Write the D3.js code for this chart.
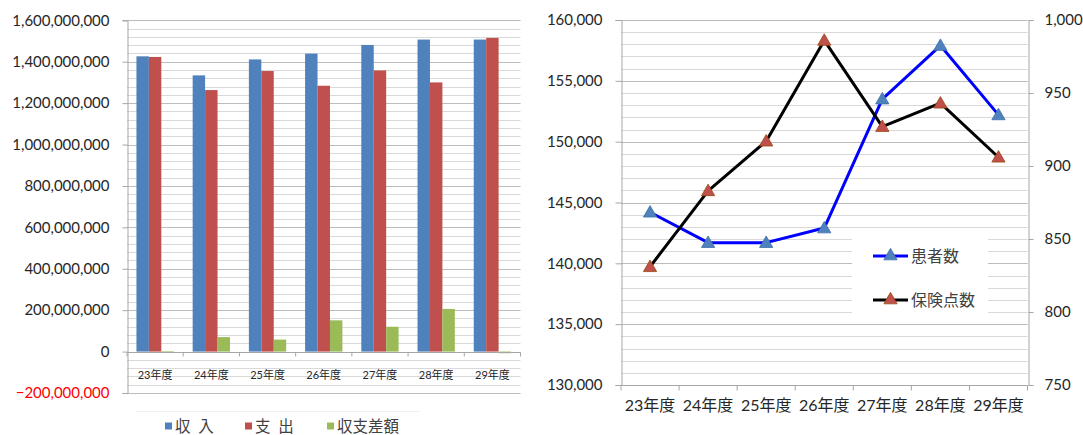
<!DOCTYPE html>
<html>
<head>
<meta charset="utf-8">
<script src="https://cdn.jsdelivr.net/npm/d3@7"></script>
<style>
  html, body { margin: 0; padding: 0; background: #fff; }
  svg { display: block; }
  text { font-family: Lato, "Noto Sans CJK JP", sans-serif; fill: #262626; }
</style>
</head>
<body>
<svg id="chart" width="1083" height="435"></svg>
<script>
// ---- data ----
const years = ["23年度", "24年度", "25年度", "26年度", "27年度", "28年度", "29年度"];

// 収支 (円)
const revenue = [1426000000, 1334000000, 1411000000, 1439000000, 1481000000, 1507000000, 1507000000];
const expense = [1423000000, 1263000000, 1355000000, 1284000000, 1358000000, 1300000000, 1515000000];
const balance = [3000000, 70000000, 58000000, 151000000, 120000000, 206000000, -8000000];
const moneySeries = ["収\u2002入", "支\u2002出", "収支差額"];
const moneyTicks = [-200000000, 0, 200000000, 400000000, 600000000, 800000000, 1000000000, 1200000000, 1400000000, 1600000000];

// 患者数・保険点数
const patients = [144200, 141700, 141700, 142900, 153500, 157900, 152200];
const points = [831, 883, 917, 986, 927, 943, 906];
const patientTicks = [130000, 135000, 140000, 145000, 150000, 155000, 160000];
const pointTicks = [750, 800, 850, 900, 950, 1000];
const lineSeries = ["患者数", "保険点数"];

const svg = d3.select("#chart");
svg.append("rect").attr("width", 1083).attr("height", 435).attr("fill", "#fff");

const fmt = d3.format(",");
const minorColor = "#d9d9d9", majorColor = "#bcbcbc", axisColor = "#a6a6a6";

// ================= left: bar chart =================
{
  const left = 127, right = 520.5, top = 20.3, bottom = 393;
  const x = d3.scaleBand().domain(years).range([left, right]).paddingInner(0).paddingOuter(0);
  const xs = d3.scaleBand().domain(moneySeries).range([0, x.bandwidth()]).paddingInner(0).paddingOuter(0.76);
  const y = d3.scaleLinear().domain([-200000000, 1600000000]).range([bottom, top]);
  const colors = ["#4f81bd", "#c0504d", "#9bbb59"];

  const g = svg.append("g");
  // minor grid every 40,000,000
  const minor = d3.range(-200000000, 1600000001, 40000000);
  g.selectAll("line.minor").data(minor).join("line")
    .attr("x1", left).attr("x2", right)
    .attr("y1", d => Math.round(y(d)) + 0.5).attr("y2", d => Math.round(y(d)) + 0.5)
    .attr("stroke", minorColor).attr("stroke-width", 1);
  g.selectAll("line.major").data(moneyTicks).join("line")
    .attr("x1", left).attr("x2", right)
    .attr("y1", d => Math.round(y(d)) + 0.5).attr("y2", d => Math.round(y(d)) + 0.5)
    .attr("stroke", majorColor).attr("stroke-width", 1);

  // bars
  const rows = years.map((yr, i) => ({ yr, vals: [revenue[i], expense[i], balance[i]] }));
  const grp = g.selectAll("g.cat").data(rows).join("g").attr("transform", d => `translate(${x(d.yr)},0)`);
  grp.selectAll("rect").data(d => d.vals.map((v, k) => ({ v, k }))).join("rect")
    .attr("x", d => xs(moneySeries[d.k]))
    .attr("width", xs.bandwidth())
    .attr("y", d => y(Math.max(0, d.v)))
    .attr("height", d => Math.abs(y(d.v) - y(0)))
    .attr("fill", d => colors[d.k]);

  // category axis at zero
  const xAxis = g.append("g").attr("transform", `translate(0,${Math.round(y(0)) + 0.5})`);
  xAxis.append("line").attr("x1", left).attr("x2", right).attr("stroke", axisColor);
  xAxis.selectAll("line.t").data(d3.range(years.length + 1)).join("line")
    .attr("x1", i => left + i * x.step()).attr("x2", i => left + i * x.step())
    .attr("y1", 0).attr("y2", 4).attr("stroke", axisColor);
  g.selectAll("text.cat").data(years).join("text")
    .attr("x", d => x(d) + x.bandwidth() / 2).attr("y", 379)
    .attr("text-anchor", "middle").attr("font-size", 11).text(d => d);

  // value axis
  const yAxis = d3.axisLeft(y).tickValues(moneyTicks).tickFormat(fmt).tickSize(5).tickPadding(13);
  const ya = g.append("g").attr("transform", `translate(${left + 0.5},0)`).call(yAxis);
  ya.select(".domain").attr("stroke", axisColor);
  ya.selectAll(".tick line").attr("stroke", axisColor);
  ya.selectAll(".tick text").attr("font-size", 15).attr("font-family", "Lato, sans-serif")
    .attr("fill", d => d < 0 ? "#ff0000" : "#262626").style("fill", d => d < 0 ? "#ff0000" : "#262626");

  // legend
  const lg = svg.append("g");
  lg.append("line").attr("x1", 135).attr("x2", 420).attr("y1", 411.5).attr("y2", 411.5).attr("stroke", "#f0f0f0");
  const lx = [165, 245, 327];
  moneySeries.forEach((s, k) => {
    lg.append("rect").attr("x", lx[k]).attr("y", 422.5).attr("width", 7).attr("height", 7).attr("fill", colors[k]);
    lg.append("text").attr("x", lx[k] + 10).attr("y", 432).attr("font-size", 15.5)
      .attr("fill", "#404040").style("fill", "#404040").text(s);
  });
}

// ================= right: line chart =================
{
  const left = 621, right = 1027.5, top = 20, bottom = 385;
  const x = d3.scaleBand().domain(years).range([left, right]);
  const yL = d3.scaleLinear().domain([130000, 160000]).range([bottom, top]);
  const yR = d3.scaleLinear().domain([750, 1000]).range([bottom, top]);

  const g = svg.append("g");
  const minor = d3.range(130000, 160001, 1000);
  g.selectAll("line.minor").data(minor).join("line")
    .attr("x1", left).attr("x2", right)
    .attr("y1", d => Math.round(yL(d)) + 0.5).attr("y2", d => Math.round(yL(d)) + 0.5)
    .attr("stroke", minorColor);
  g.selectAll("line.major").data(patientTicks).join("line")
    .attr("x1", left).attr("x2", right)
    .attr("y1", d => Math.round(yL(d)) + 0.5).attr("y2", d => Math.round(yL(d)) + 0.5)
    .attr("stroke", majorColor);

  // axes
  const la = g.append("g").attr("transform", `translate(${Math.round(left) + 0.5},0)`)
    .call(d3.axisLeft(yL).tickValues(patientTicks).tickFormat(fmt).tickSize(6).tickPadding(13));
  const ra = g.append("g").attr("transform", `translate(${Math.round(right) + 0.5},0)`)
    .call(d3.axisRight(yR).tickValues(pointTicks).tickFormat(fmt).tickSize(5).tickPadding(11));
  [la, ra].forEach(a => {
    a.select(".domain").attr("stroke", axisColor);
    a.selectAll(".tick line").attr("stroke", axisColor);
    a.selectAll(".tick text").attr("font-size", 15).attr("font-family", "Lato, sans-serif")
      .style("fill", "#262626");
  });
  const xa = g.append("g").attr("transform", `translate(0,${Math.round(bottom) + 0.5})`);
  xa.append("line").attr("x1", left).attr("x2", right).attr("stroke", axisColor);
  xa.selectAll("line.t").data(d3.range(years.length + 1)).join("line")
    .attr("x1", i => left + i * x.step()).attr("x2", i => left + i * x.step())
    .attr("y1", 0).attr("y2", 5).attr("stroke", axisColor);
  g.selectAll("text.cat").data(years).join("text")
    .attr("x", d => x(d) + x.bandwidth() / 2).attr("y", 411)
    .attr("text-anchor", "middle").attr("font-size", 16).text(d => d);

  const cx = d => x(d) + x.bandwidth() / 2;
  const tri = d3.symbol().type(d3.symbolTriangle).size(76);

  const series = [
    { name: lineSeries[0], vals: patients, y: yL, stroke: "#0000ff", fill: "#4f81bd", edge: "#3f6fa8" },
    { name: lineSeries[1], vals: points, y: yR, stroke: "#000000", fill: "#c0504d", edge: "#984807" }
  ];
  series.forEach(s => {
    const line = d3.line().x((v, i) => cx(years[i])).y(v => s.y(v));
    g.append("path").attr("d", line(s.vals)).attr("fill", "none")
      .attr("stroke", s.stroke).attr("stroke-width", 3).attr("stroke-linejoin", "round");
  });
  series.forEach(s => {
    g.selectAll(null).data(s.vals).join("path")
      .attr("d", tri)
      .attr("transform", (v, i) => `translate(${cx(years[i])},${s.y(v) + 1})`)
      .attr("fill", s.fill).attr("stroke", s.edge).attr("stroke-width", 0.8);
  });

  // legend
  const lg = svg.append("g");
  lg.append("rect").attr("x", 852).attr("y", 233).attr("width", 136).attr("height", 86).attr("fill", "#fff");
  series.forEach((s, k) => {
    const ly = 256 + k * 44;
    lg.append("line").attr("x1", 873).attr("x2", 908).attr("y1", ly).attr("y2", ly)
      .attr("stroke", s.stroke).attr("stroke-width", 3);
    lg.append("path").attr("d", tri).attr("transform", `translate(890.5,${ly})`)
      .attr("fill", s.fill).attr("stroke", s.edge).attr("stroke-width", 0.8);
    lg.append("text").attr("x", 911).attr("y", ly + 6).attr("font-size", 16)
      .style("fill", "#404040").text(s.name);
  });
}
</script>
</body>
</html>
